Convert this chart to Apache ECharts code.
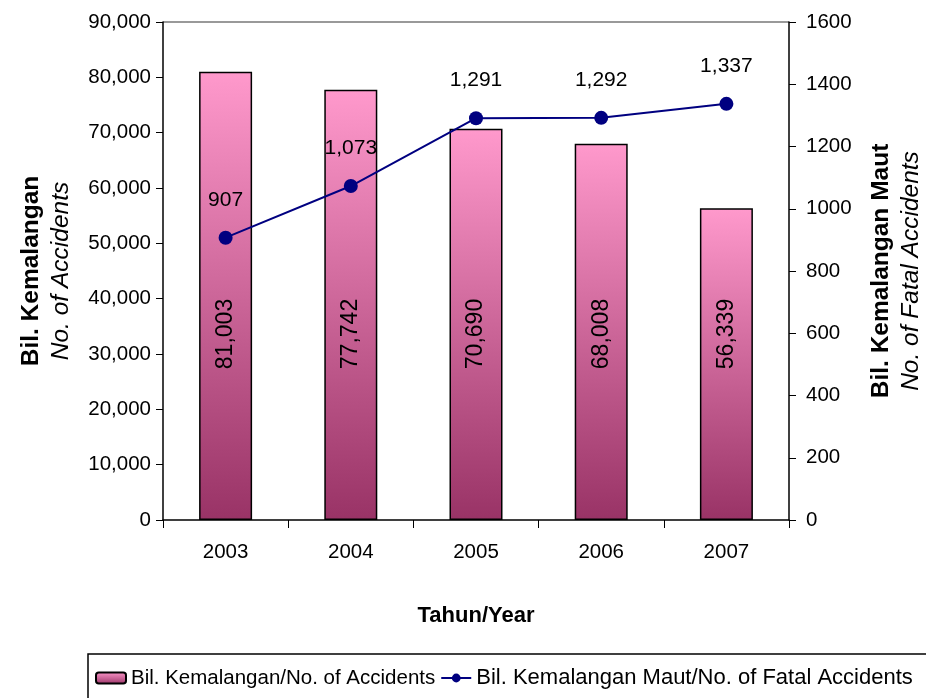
<!DOCTYPE html>
<html>
<head>
<meta charset="utf-8">
<script src="https://cdn.jsdelivr.net/npm/echarts@6/dist/echarts.min.js"></script>
<style>
  html, body { margin: 0; padding: 0; background: #fff; }
  #chart { width: 926px; height: 698px; }
</style>
</head>
<body>
<div id="chart"></div>
<script>
// data
var years = ['2003', '2004', '2005', '2006', '2007'];
var accidents = [81003, 77742, 70690, 68008, 56339];
var fatalAccidents = [907, 1073, 1291, 1292, 1337];

var fontFam = '"Liberation Sans", Arial, sans-serif';

function commas(v) {
    return String(v).replace(/\B(?=(\d{3})+(?!\d))/g, ',');
}

var chart = echarts.init(document.getElementById('chart'));

var option = {
    animation: false,
    textStyle: { fontFamily: fontFam, color: '#000' },
    grid: { left: 163, right: 137, top: 22, bottom: 178, outerBoundsMode: 'none' },
    legend: {
        left: 90,
        top: 662,
        itemWidth: 30,
        itemHeight: 11,
        itemGap: 5,
        textStyle: { fontSize: 20.5, color: '#000', fontFamily: fontFam },
        data: [
            { name: 'Bil. Kemalangan/No. of Accidents' },
            { name: 'Bil. Kemalangan Maut/No. of Fatal Accidents', textStyle: { fontSize: 22 } }
        ]
    },
    graphic: [
        // top border of plot area
        { type: 'line', shape: { x1: 163, y1: 22, x2: 789, y2: 22 }, style: { stroke: '#999', lineWidth: 2 }, z: 0 },
        // legend box
        { type: 'rect', shape: { x: 88, y: 654, width: 900, height: 60 }, style: { fill: 'none', stroke: '#000', lineWidth: 1.5 } }
    ],
    xAxis: {
        type: 'category',
        data: years,
        name: 'Tahun/Year',
        nameLocation: 'middle',
        nameGap: 85,
        nameTextStyle: { fontSize: 22, fontWeight: 'bold', color: '#000' },
        axisLine: { lineStyle: { color: '#000', width: 1.5 } },
        axisTick: { show: true, length: 8, lineStyle: { color: '#000' } },
        axisLabel: { fontSize: 20.5, color: '#000', margin: 22 }
    },
    yAxis: [
        {
            type: 'value',
            min: 0,
            max: 90000,
            interval: 10000,
            name: '{b|Bil. Kemalangan}\n{i|No. of Accidents}',
            nameLocation: 'middle',
            nameRotate: 90,
            nameGap: 87,
            nameTextStyle: {
                rich: {
                    b: { fontSize: 24.5, fontWeight: 'bold', color: '#000', fontFamily: fontFam, lineHeight: 30 },
                    i: { fontSize: 24.5, fontStyle: 'italic', color: '#000', fontFamily: fontFam, lineHeight: 30 }
                }
            },
            axisLine: { show: true, lineStyle: { color: '#000', width: 1.5 } },
            axisTick: { show: true, length: 7, lineStyle: { color: '#000' } },
            splitLine: { show: false },
            axisLabel: { fontSize: 20.5, color: '#000', margin: 12, formatter: commas }
        },
        {
            type: 'value',
            min: 0,
            max: 1600,
            interval: 200,
            position: 'right',
            name: '{b|Bil. Kemalangan Maut}\n{i|No. of Fatal Accidents}',
            nameLocation: 'middle',
            nameRotate: 90,
            nameGap: 77,
            nameTextStyle: {
                rich: {
                    b: { fontSize: 24.5, fontWeight: 'bold', color: '#000', fontFamily: fontFam, lineHeight: 30 },
                    i: { fontSize: 24.5, fontStyle: 'italic', color: '#000', fontFamily: fontFam, lineHeight: 30 }
                }
            },
            axisLine: { show: true, lineStyle: { color: '#000', width: 1.5 } },
            axisTick: { show: true, length: 7, lineStyle: { color: '#000' } },
            splitLine: { show: false },
            axisLabel: { fontSize: 20.5, color: '#000', margin: 17, formatter: function (v) { return String(v); } }
        }
    ],
    series: [
        {
            name: 'Bil. Kemalangan/No. of Accidents',
            type: 'bar',
            data: accidents,
            barWidth: 53,
            itemStyle: {
                color: new echarts.graphic.LinearGradient(0, 0, 0, 1, [
                    { offset: 0, color: '#ff99cc' },
                    { offset: 1, color: '#993366' }
                ]),
                borderColor: '#000',
                borderWidth: 1.5
            },
            label: {
                show: true,
                position: 'insideBottom',
                distance: 186,
                rotate: 90,
                align: 'center',
                verticalAlign: 'middle',
                fontSize: 23,
                color: '#000',
                fontFamily: fontFam,
                formatter: function (p) { return commas(p.value); }
            }
        },
        {
            name: 'Bil. Kemalangan Maut/No. of Fatal Accidents',
            type: 'line',
            yAxisIndex: 1,
            data: fatalAccidents,
            symbol: 'circle',
            symbolSize: 14,
            lineStyle: { color: '#000080', width: 2 },
            itemStyle: { color: '#000080' },
            label: {
                show: true,
                position: 'top',
                distance: 20,
                fontSize: 21,
                color: '#000',
                fontFamily: fontFam,
                formatter: function (p) { return commas(p.value); }
            }
        }
    ]
};

chart.setOption(option);
</script>
</body>
</html>
